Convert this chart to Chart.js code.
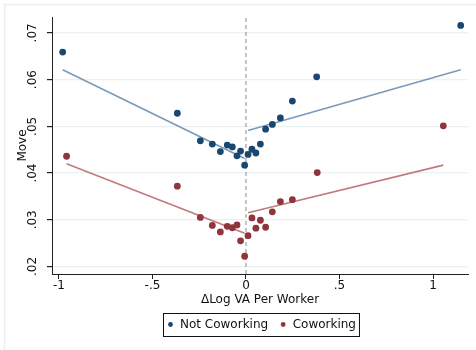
<!DOCTYPE html>
<html>
<head>
<meta charset="utf-8">
<script src="https://cdn.jsdelivr.net/npm/chart.js@4.4.0/dist/chart.umd.min.js"></script>
<style>
  html, body { margin: 0; padding: 0; background: #ffffff; }
  #wrap { width: 476px; height: 350px; position: relative; }
</style>
</head>
<body>
<div id="wrap"><canvas id="c" width="476" height="350"></canvas></div>
<script>
// Binned scatter: mobility ("Move") against change in log value added per worker
const xNotCoworking = [-0.980, -0.367, -0.244, -0.180, -0.137, -0.100, -0.073, -0.048, -0.029, -0.007,
                        0.011, 0.032, 0.053, 0.077, 0.105, 0.141, 0.184, 0.248, 0.378, 1.148];
const moveNotCoworking = [0.0659, 0.0528, 0.0469, 0.0462, 0.0446, 0.0460, 0.0456, 0.0437, 0.0447, 0.0417,
                          0.0440, 0.0451, 0.0443, 0.0462, 0.0494, 0.0504, 0.0518, 0.0554, 0.0606, 0.0716];

const xCoworking = [-0.959, -0.367, -0.244, -0.180, -0.137, -0.100, -0.073, -0.048, -0.029, -0.007,
                     0.011, 0.032, 0.053, 0.077, 0.105, 0.141, 0.184, 0.248, 0.381, 1.055];
const moveCoworking = [0.0436, 0.0372, 0.0305, 0.0288, 0.0274, 0.0286, 0.0283, 0.0289, 0.0255, 0.0222,
                       0.0266, 0.0304, 0.0282, 0.0299, 0.0284, 0.0317, 0.0339, 0.0343, 0.0401, 0.0501];

// Linear fits, estimated separately on each side of zero
const fitNotLeftX = [-0.980, -0.007];
const fitNotLeftY = [0.0621, 0.0431];
const fitNotRightX = [0.011, 1.148];
const fitNotRightY = [0.0491, 0.0621];
const fitCoLeftX = [-0.959, -0.007];
const fitCoLeftY = [0.0420, 0.0271];
const fitCoRightX = [0.011, 1.055];
const fitCoRightY = [0.0315, 0.0417];

// Axis ticks and ranges
const xTicks = [-1, -0.5, 0, 0.5, 1];
const yTicks = [0.02, 0.03, 0.04, 0.05, 0.06, 0.07];
const xRange = [-1.037, 1.187];
const yRange = [0.0184, 0.0734];
const cutoffX = 0;

const seriesLabels = ['Not Coworking', 'Coworking'];
const NAVY = '#1a476f';
const MAROON = '#90353b';
const NAVY_FIT = '#7a9aba';
const MAROON_FIT = '#c27a7e';
const FONT = 'DejaVu Sans';

const pts = (xs, ys) => xs.map((x, i) => ({ x: x, y: ys[i] }));
const stataNum = v => {
  let s = String(Math.round(v * 1000) / 1000);
  return s.replace(/^(-?)0\./, '$1.');
};

function fitLine(xs, ys, color) {
  return {
    type: 'line', data: pts(xs, ys), showLine: true, borderColor: color, borderWidth: 1.6,
    pointRadius: 0, fill: false, order: 2, isFit: true
  };
}

const datasets = [
  { label: seriesLabels[0], data: pts(xNotCoworking, moveNotCoworking), backgroundColor: NAVY,
    borderWidth: 0, pointRadius: 3.4, pointHoverRadius: 3.4, order: 0 },
  { label: seriesLabels[1], data: pts(xCoworking, moveCoworking), backgroundColor: MAROON,
    borderWidth: 0, pointRadius: 3.4, pointHoverRadius: 3.4, order: 0 },
  fitLine(fitNotLeftX, fitNotLeftY, NAVY_FIT),
  fitLine(fitNotRightX, fitNotRightY, NAVY_FIT),
  fitLine(fitCoLeftX, fitCoLeftY, MAROON_FIT),
  fitLine(fitCoRightX, fitCoRightY, MAROON_FIT),
  { type: 'line', data: [{ x: cutoffX, y: yRange[0] }, { x: cutoffX, y: yRange[1] }], showLine: true,
    borderColor: '#8a8a8a', borderWidth: 1, borderDash: [4, 3], pointRadius: 0, order: 3, isFit: true }
];

// White page with a faint frame, plus a boxed legend under the axis title
const pagePlugin = {
  id: 'page',
  beforeDraw(chart) {
    const ctx = chart.ctx;
    ctx.save();
    ctx.fillStyle = '#ffffff';
    ctx.fillRect(0, 0, chart.width, chart.height);
    ctx.strokeStyle = '#e9eff1';
    ctx.lineWidth = 1.5;
    ctx.beginPath();
    ctx.moveTo(4.5, chart.height);
    ctx.lineTo(4.5, 4.5);
    ctx.lineTo(chart.width, 4.5);
    ctx.stroke();
    ctx.restore();
  },
  afterDraw(chart) {
    const ctx = chart.ctx;
    const items = chart.data.datasets.filter(d => !d.isFit);
    ctx.save();
    ctx.font = '12px "' + FONT + '"';
    ctx.textBaseline = 'middle';
    ctx.textAlign = 'left';
    const boxLeft = 163, boxTop = 313, boxH = 23;
    const cy = boxTop + boxH / 2;
    let x = boxLeft + 7.5;
    items.forEach((d, i) => {
      ctx.fillStyle = d.backgroundColor;
      ctx.beginPath();
      ctx.arc(x, cy, 2.4, 0, Math.PI * 2);
      ctx.fill();
      ctx.fillStyle = '#111111';
      const tx = x + 9.5;
      ctx.fillText(d.label, tx, cy + 0.5);
      x = tx + ctx.measureText(d.label).width + 15;
    });
    const boxRight = x - 15 + 3;
    ctx.strokeStyle = '#111111';
    ctx.lineWidth = 1;
    ctx.strokeRect(boxLeft + 0.5, boxTop + 0.5, boxRight - boxLeft, boxH);
    ctx.restore();
  }
};

new Chart(document.getElementById('c'), {
  type: 'scatter',
  data: { datasets: datasets },
  options: {
    responsive: false,
    animation: false,
    events: [],
    layout: { padding: { left: 6, top: 17, right: 8, bottom: 42 } },
    plugins: { legend: { display: false }, tooltip: { enabled: false } },
    scales: {
      x: {
        type: 'linear', min: xRange[0], max: xRange[1],
        afterFit(scale) { scale.height = 34; },
        afterBuildTicks(scale) { scale.ticks = xTicks.map(v => ({ value: v })); },
        ticks: { callback: v => stataNum(v), color: '#111', font: { family: FONT, size: 12 }, padding: 0,
                 maxRotation: 0, minRotation: 0 },
        grid: { display: true, drawOnChartArea: false, drawTicks: true, tickLength: 5, tickColor: '#222' },
        border: { display: true, color: '#222', width: 1 },
        title: { display: true, text: '\u0394Log VA Per Worker', color: '#111',
                 font: { family: FONT, size: 12 }, padding: { top: 0, bottom: 1 } }
      },
      y: {
        type: 'linear', min: yRange[0], max: yRange[1],
        afterFit(scale) { scale.width = 46; },
        afterBuildTicks(scale) { scale.ticks = yTicks.map(v => ({ value: v })); },
        ticks: { callback: v => stataNum(v), color: '#111', font: { family: FONT, size: 12 }, padding: 4.5,
                 minRotation: 90, maxRotation: 90, crossAlign: 'center' },
        grid: { display: true, drawOnChartArea: true, drawTicks: true, tickLength: 5, color: '#eaf1f2',
                tickColor: '#222', lineWidth: 1.2 },
        border: { display: true, color: '#222', width: 1 },
        title: { display: true, text: 'Move', color: '#111', font: { family: FONT, size: 12 },
                 padding: { top: 10, bottom: 0 } }
      }
    }
  },
  plugins: [pagePlugin]
});
</script>
</body>
</html>
